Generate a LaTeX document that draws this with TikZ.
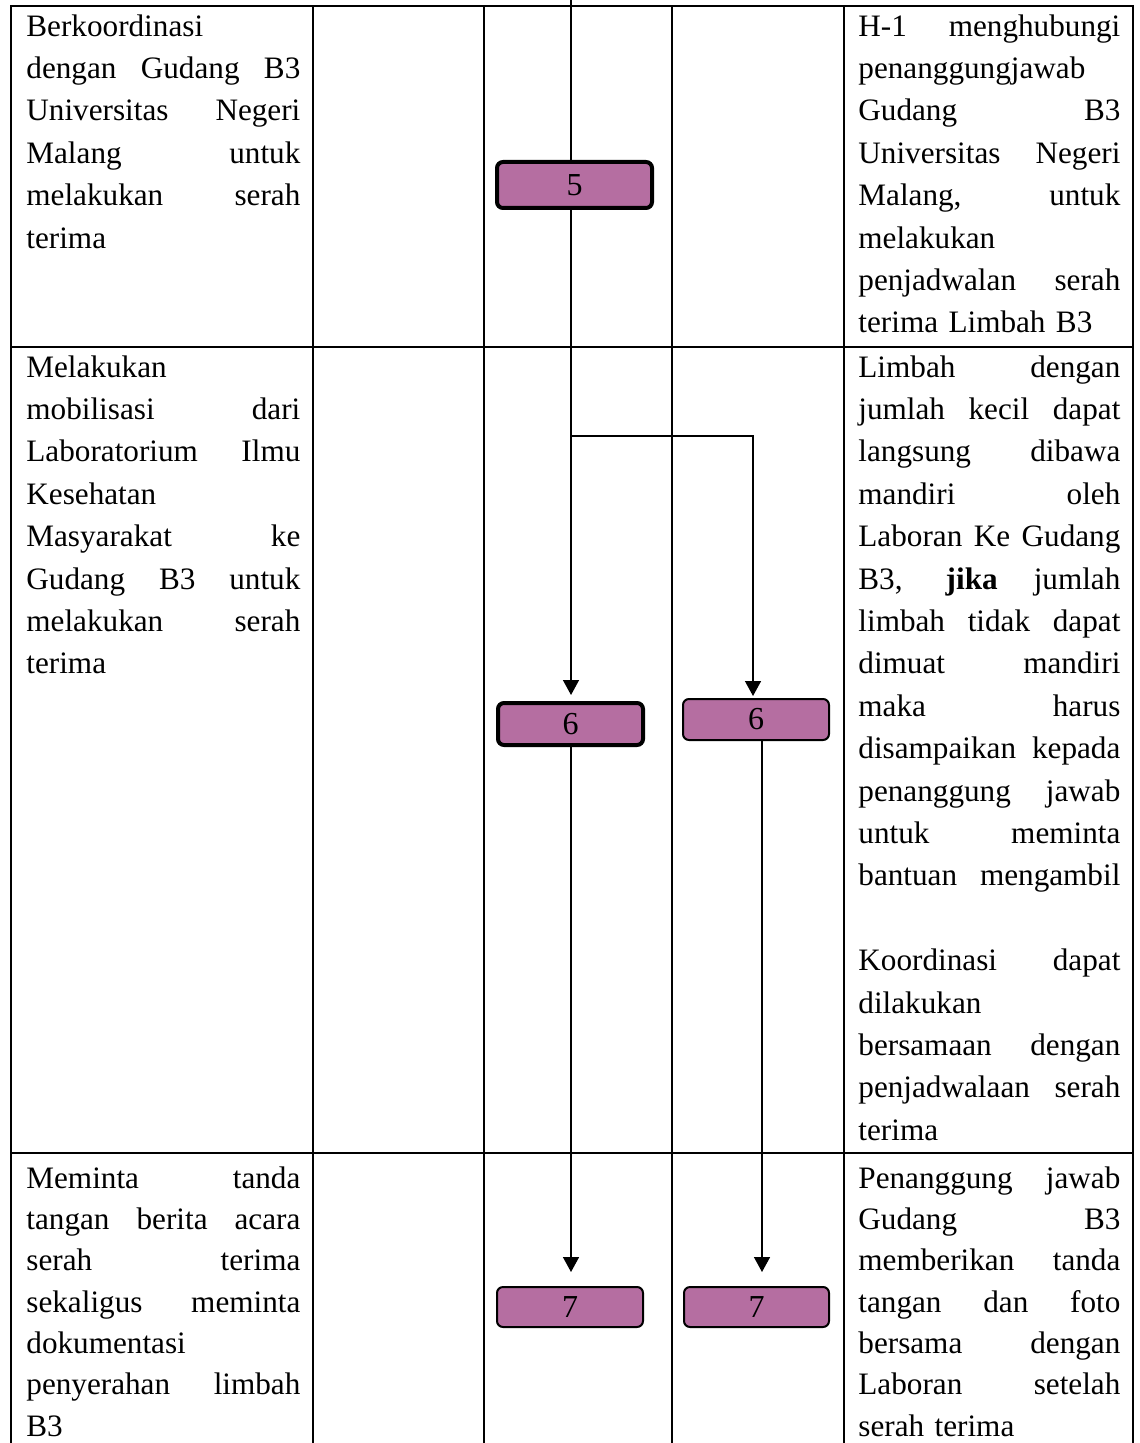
\documentclass[tikz,border=0pt]{standalone}
\usepackage{fontspec}
\setmainfont{Liberation Serif}
\usetikzlibrary{arrows.meta}
\definecolor{procfill}{RGB}{181,110,161}
\tikzset{rule/.style={line width=1.3pt, line cap=rect},
  cell/.style={anchor=north west, inner sep=0pt, align=left, font=\fontsize{15.6}{21.2}\selectfont},
  tight cell/.style={cell, font=\fontsize{15.6}{20.65}\selectfont},
  proc/.style={draw, rounded corners=3pt, fill=procfill, inner sep=0pt, font=\fontsize{16}{18}\selectfont},
  bold proc/.style={proc, line width=2pt},
  thin proc/.style={proc, line width=1pt},
  flow/.style={line width=0.75pt, -{Triangle[width=8pt,length=7.5pt]}}}
\newcommand{\justl}[1]{\leavevmode\hbox to 137pt{\spaceskip=.25em plus 1fil minus .1em\relax #1}}
\newcommand{\justr}[1]{\leavevmode\hbox to 131pt{\spaceskip=.25em plus 1fil minus .1em\relax #1}}

\begin{document}
\begin{tikzpicture}[x=0.5pt, y=-0.5pt]
    \useasboundingbox (0,0) rectangle (1139,1443);
    \draw[rule] (11,6) -- (1133,6);
    \draw[rule] (11,347) -- (1133,347);
    \draw[rule] (11,1153) -- (1133,1153);
    \foreach \x in {11,313,484,672,844,1133}
      \draw[rule] (\x,6) -- (\x,1443);

    \node[cell, text width=137pt] (koord) at (26,6) {\strut Berkoordinasi\\
      \justl{dengan Gudang B3}\\ \justl{Universitas Negeri}\\ \justl{Malang untuk}\\
      \justl{melakukan serah}\\ terima};
    \node[cell, text width=131pt] (hmin) at (858,6) {\strut\justr{H-1 menghubungi}\\
      penanggungjawab\\ \justr{Gudang B3}\\ \justr{Universitas Negeri}\\ \justr{Malang, untuk}\\
      melakukan\\ \justr{penjadwalan serah}\\ terima Limbah B3};
    \node[cell, text width=137pt] (mobil) at (26,347) {\strut Melakukan\\
      \justl{mobilisasi dari}\\ \justl{Laboratorium Ilmu}\\ Kesehatan\\ \justl{Masyarakat ke}\\
      \justl{Gudang B3 untuk}\\ \justl{melakukan serah}\\ terima};
    \node[cell, text width=131pt] (limbah) at (858,347) {\strut\justr{Limbah dengan}\\
      \justr{jumlah kecil dapat}\\ \justr{langsung dibawa}\\ \justr{mandiri oleh}\\
      \justr{Laboran Ke Gudang}\\ \justr{B3, \textbf{jika} jumlah}\\ \justr{limbah tidak dapat}\\
      \justr{dimuat mandiri}\\ \justr{maka harus}\\ \justr{disampaikan kepada}\\
      \justr{penanggung jawab}\\ \justr{untuk meminta}\\ \justr{bantuan mengambil}\\ \mbox{}\\
      \justr{Koordinasi dapat}\\ dilakukan\\ \justr{bersamaan dengan}\\
      \justr{penjadwalaan serah}\\ terima};
    \node[tight cell, text width=137pt] (ttd) at (26,1159) {\strut\justl{Meminta tanda}\\
      \justl{tangan berita acara}\\ \justl{serah terima}\\ \justl{sekaligus meminta}\\
      dokumentasi\\ \justl{penyerahan limbah}\\ B3};
    \node[tight cell, text width=131pt] (pj) at (858,1159) {\strut\justr{Penanggung jawab}\\
      \justr{Gudang B3}\\ \justr{memberikan tanda}\\ \justr{tangan dan foto}\\
      \justr{bersama dengan}\\ \justr{Laboran setelah}\\ serah terima};

    \node[bold proc, minimum width=77.5pt, minimum height=23pt] (p5) at (574.5,185) {5};
    \node[bold proc, minimum width=72.5pt, minimum height=21pt] (p6a) at (570.5,724) {6};
    \node[thin proc, minimum width=73pt, minimum height=20.5pt] (p6b) at (756,719.5) {6};
    \node[thin proc, minimum width=73pt, minimum height=20pt] (p7a) at (570,1307) {7};
    \node[thin proc, minimum width=72.5pt, minimum height=20pt] (p7b) at (756.5,1307) {7};

    \coordinate (trunk) at (571,0);
    \coordinate (fork) at (571,436);
    \coordinate (forkend) at (753,436);
    \coordinate (side) at (762,0);
    \draw[line width=0.75pt] (trunk) -- (trunk |- p5.north);
    \draw[flow, shorten >=3pt] (trunk |- p5.south) -- (trunk |- p6a.north);
    \draw[flow, shorten >=1pt] (fork) -- (forkend) -- (forkend |- p6b.north);
    \draw[flow, shorten >=7pt] (trunk |- p6a.south) -- (trunk |- p7a.north);
    \draw[flow, shorten >=7pt] (side |- p6b.south) -- (side |- p7b.north);
\end{tikzpicture}
\end{document}
